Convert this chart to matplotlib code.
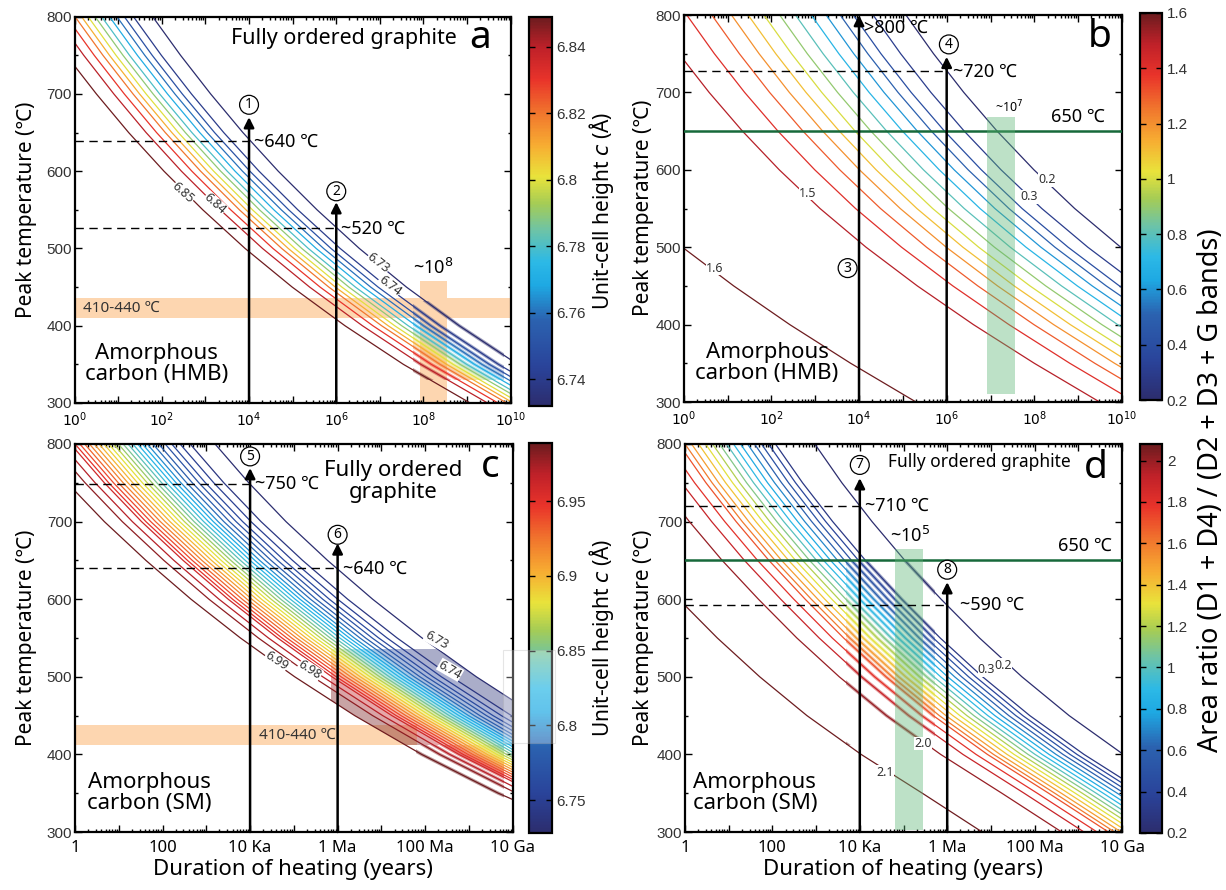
import numpy as np
import matplotlib.pyplot as plt
from matplotlib.colors import LinearSegmentedColormap, Normalize
from matplotlib.cm import ScalarMappable
from matplotlib.patches import Rectangle
from matplotlib.ticker import LogLocator, MultipleLocator, NullFormatter

plt.rcParams['font.family'] = ['Noto Sans', 'DejaVu Sans']

W, H = 1226, 890

# temperature grid (°C) on which every contour is read
temps = [300, 350, 400, 450, 500, 550, 600, 650, 700, 750, 800]

# a: unit-cell height c, HMB model
levels_a = [6.73, 6.74, 6.75, 6.76, 6.77, 6.78, 6.79, 6.80, 6.81, 6.82, 6.83, 6.84, 6.85]
ref_a = [11.69, 10.16, 8.82, 7.61, 6.53, 5.56, 4.67, 3.86, 3.12, 2.43, 1.79]   # log10(yr) of first contour
offset_a = [0, 0.44, 0.65, 0.82, 0.99, 1.17, 1.32, 1.48, 1.63, 1.78, 1.98, 2.22, 2.62]

# b: area ratio, HMB model
levels_b = [0.2, 0.3, 0.4, 0.5, 0.6, 0.7, 0.8, 0.9, 1.0, 1.1, 1.2, 1.3, 1.4, 1.5, 1.6]
ref_b = [15.3, 13.81, 12.42, 11.14, 9.97, 8.92, 7.99, 7.15, 6.39, 5.70, 5.07]
offset_b = [0, 0.75, 1.2, 1.5, 1.82, 2.16, 2.52, 2.88, 3.24, 3.6, 3.98, 4.43, 5.0, 5.81, 10.0]

# c: unit-cell height c, SM model
levels_c = [6.73, 6.74, 6.75, 6.76, 6.77, 6.78, 6.79, 6.80, 6.81, 6.82, 6.83, 6.84, 6.85, 6.86,
            6.87, 6.88, 6.89, 6.90, 6.91, 6.92, 6.93, 6.94, 6.95, 6.96, 6.97, 6.98, 6.99]
ref_c = [15.85, 13.82, 12.07, 10.54, 9.17, 7.93, 6.80, 5.77, 4.82, 3.97, 3.2]
offset_c = [0, 0.57, 0.80, 0.99, 1.14, 1.29, 1.42, 1.55, 1.66, 1.77, 1.88, 1.99, 2.10, 2.21,
            2.32, 2.43, 2.54, 2.65, 2.76, 2.87, 2.98, 3.09, 3.20, 3.30, 3.51, 3.74, 4.15]

# d: area ratio, SM model
levels_d = [0.2, 0.3, 0.4, 0.5, 0.6, 0.7, 0.8, 0.9, 1.0, 1.1, 1.2, 1.3, 1.4, 1.5, 1.6, 1.7,
            1.8, 1.9, 2.0, 2.1]
ref_d = [12.8, 11.43, 10.03, 8.79, 7.71, 6.74, 5.86, 5.03, 4.28, 3.59, 2.97]
offset_d = [0, 0.9, 1.06, 1.22, 1.38, 1.54, 1.70, 1.86, 2.02, 2.18, 2.34, 2.50, 2.66, 2.82,
            2.97, 3.11, 3.37, 3.67, 4.18, 6.0]

decade_labels = ['1', '', '100', '', '10 Ka', '', '1 Ma', '', '100 Ma', '', '10 Ga']

cmap = LinearSegmentedColormap.from_list('jetlike', [
    (0.00, '#2c2d6e'), (0.10, '#2a439a'), (0.22, '#2b62b0'), (0.31, '#1ea9e3'),
    (0.37, '#2cb9e6'), (0.45, '#6cc3a8'), (0.52, '#a5cc55'), (0.59, '#e9e33b'),
    (0.67, '#f7ad32'), (0.75, '#f1782d'), (0.84, '#e9332a'), (0.92, '#c02129'),
    (1.00, '#6d1c1f')])

fig = plt.figure(figsize=(W / 100, H / 100), dpi=100)


def make_axes(l, t, r, b):
    return fig.add_axes([l / W, 1 - b / H, (r - l) / W, (b - t) / H])


def contour_x(ref, off):
    return 10 ** (np.array(ref) - off)


def setup(ax, power_labels):
    ax.set_xscale('log')
    ax.set_xlim(1, 1e10)
    ax.set_ylim(300, 800)
    ax.set_xticks([10.0 ** k for k in range(11)])
    if power_labels:
        ax.set_xticklabels(['$10^{%d}$' % k if k % 2 == 0 else '' for k in range(11)],
                           fontsize=10)
    else:
        ax.set_xticklabels(decade_labels, fontsize=12)
    ax.xaxis.set_minor_locator(LogLocator(base=10, subs=np.arange(2, 10), numticks=30))
    ax.xaxis.set_minor_formatter(NullFormatter())
    ax.yaxis.set_major_locator(MultipleLocator(100))
    ax.yaxis.set_minor_locator(MultipleLocator(50))
    for lab in ax.get_yticklabels():
        lab.set_family('Liberation Sans')
    ax.tick_params(axis='y', labelsize=11, labelcolor='#333333', pad=2)
    ax.tick_params(axis='x', pad=6)
    ax.tick_params(which='both', direction='in', top=True, right=True, width=1)
    ax.tick_params(which='major', length=5)
    ax.tick_params(which='minor', length=2.5)
    for s in ax.spines.values():
        s.set_linewidth(1.6)


def draw_lines(ax, levels, ref, offset, norm, lw=0.9):
    for lev, off in zip(levels, offset):
        ax.plot(contour_x(ref, off), temps, color=cmap(norm(lev)), lw=lw, zorder=2)


def smudge(ax, levels, ref, offset, norm, x0, x1, t0, t1):
    # the blurred, heavier-looking patch in the original figure
    box = Rectangle((x0, t0), x1 - x0, t1 - t0, transform=ax.transData)
    for lev, off in zip(levels, offset):
        ln, = ax.plot(contour_x(ref, off), temps, color=cmap(norm(lev)), lw=2.4, alpha=0.45,
                      zorder=2.2)
        ln.set_clip_path(box)


def colorbar(cax, norm, ticks, labels):
    cb = fig.colorbar(ScalarMappable(norm=norm, cmap=cmap), cax=cax, ticks=ticks)
    cb.ax.set_yticklabels(labels, fontsize=11, color='#333333', family='Liberation Sans')
    cb.ax.tick_params(direction='in', length=4, width=1, left=True, right=True)
    cb.outline.set_linewidth(1.6)


def arrow(ax, x, y0, y1):
    ax.annotate('', xy=(x, y1), xytext=(x, y0),
                arrowprops=dict(arrowstyle='-|>', color='k', lw=1.8, mutation_scale=15,
                                shrinkA=0, shrinkB=0), zorder=6)


def circled(ax, x, y, s):
    ax.text(x, y, s, ha='center', va='center', fontsize=10, zorder=7,
            bbox=dict(boxstyle='circle,pad=0.14', fc='white', ec='k', lw=0.9))


def clabel(ax, L, T, s, rot):
    ax.text(10 ** L, T, s, rotation=rot, ha='center', va='center', fontsize=9,
            color='#333333', zorder=5, rotation_mode='anchor',
            bbox=dict(fc='white', ec='none', pad=0.2))


def dashed(ax, x1, T):
    ax.plot([1, x1], [T, T], color='k', lw=1, ls=(0, (6, 4)), zorder=4)


peach = '#fdd6b0'

# ---------------- panel a ----------------
ax = make_axes(74.6, 16.7, 510.7, 403)
setup(ax, True)
norm_a = Normalize(6.732, 6.849)
ax.axhspan(410, 436, color=peach, lw=0, zorder=1)
ax.fill_between([10 ** 7.91, 10 ** 8.55], 300, 458, color=peach, lw=0, zorder=1)
draw_lines(ax, levels_a, ref_a, offset_a, norm_a)
smudge(ax, levels_a, ref_a, offset_a, norm_a, 10 ** 7.75, 10 ** 9.85, 330, 432)
dashed(ax, 1e4, 639)
dashed(ax, 1e6, 527)
arrow(ax, 1e4, 300, 670)
arrow(ax, 1e6, 300, 560)
circled(ax, 1e4, 686, '1')
circled(ax, 1e6, 574, '2')
ax.text(10 ** 4.12, 638, '~640 ℃', fontsize=13, va='center')
ax.text(10 ** 6.12, 526, '~520 ℃', fontsize=13, va='center')
ax.text(10 ** 0.2, 423, '410-440 ℃', fontsize=11, va='center', color='#333333')
ax.text(10 ** 8.23, 462, '~10$^8$', fontsize=13, ha='center', va='bottom')
ax.text(10 ** 6.18, 772, 'Fully ordered graphite', fontsize=15.5, ha='center', va='center')
ax.text(10 ** 9.3, 772, 'a', fontsize=28, ha='center', va='center')
ax.text(10 ** 1.88, 350, 'Amorphous\ncarbon (HMB)', fontsize=16, ha='center', va='center',
        linespacing=1.0)
clabel(ax, 2.49, 572, '6.85', -42)
clabel(ax, 3.22, 558, '6.84', -42)
clabel(ax, 6.96, 481, '6.73', -38)
clabel(ax, 7.23, 452, '6.74', -38)

cax = make_axes(529, 17, 551.7, 406)
colorbar(cax, norm_a, [6.74, 6.76, 6.78, 6.80, 6.82, 6.84],
         ['6.74', '6.76', '6.78', '6.8', '6.82', '6.84'])

# ---------------- panel b ----------------
ax = make_axes(683.7, 15, 1122, 402)
setup(ax, True)
norm_b = Normalize(0.2, 1.6)
draw_lines(ax, levels_b, ref_b, offset_b, norm_b)
ax.axhline(650, color='#17693a', lw=1.8, zorder=3)
ax.fill_between([10 ** 6.91, 10 ** 7.55], 310, 668, color='#5cb574', alpha=0.4, lw=0, zorder=4)
dashed(ax, 1e6, 728)
arrow(ax, 1e4, 300, 800)
arrow(ax, 1e6, 300, 746)
circled(ax, 10 ** 3.74, 473, '3')
circled(ax, 10 ** 6.05, 762, '4')
ax.text(10 ** 4.12, 784, '>800 ℃', fontsize=13, va='center')
ax.text(10 ** 6.14, 727, '~720 ℃', fontsize=13, va='center')
ax.text(10 ** 9.62, 657, '650 ℃', fontsize=13, ha='right', va='bottom')
ax.text(10 ** 7.42, 670, '~10$^7$', fontsize=9, ha='center', va='bottom')
ax.text(10 ** 9.5, 772, 'b', fontsize=28, ha='center', va='center')
ax.text(10 ** 1.9, 350, 'Amorphous\ncarbon (HMB)', fontsize=16, ha='center', va='center',
        linespacing=1.0)
clabel(ax, 2.83, 570, '1.5', 0)
clabel(ax, 0.71, 473, '1.6', 0)
clabel(ax, 8.29, 587, '0.2', 0)
clabel(ax, 7.87, 565, '0.3', 0)

cax = make_axes(1140, 13, 1162, 400)
colorbar(cax, norm_b, [0.2, 0.4, 0.6, 0.8, 1.0, 1.2, 1.4, 1.6],
         ['0.2', '0.4', '0.6', '0.8', '1', '1.2', '1.4', '1.6'])

# ---------------- panel c ----------------
ax = make_axes(75, 444, 512.7, 832)
setup(ax, False)
norm_c = Normalize(6.728, 6.989)
ax.fill_between([1, 10 ** 7.81], 412, 438, color=peach, lw=0, zorder=1)
draw_lines(ax, levels_c, ref_c, offset_c, norm_c)
box = Rectangle((10 ** 5.85, 412), 1e10, 124, transform=ax.transData)
for i in range(len(levels_c) - 1):
    xs = np.r_[contour_x(ref_c, offset_c[i]), contour_x(ref_c, offset_c[i + 1])[::-1]]
    ys = np.r_[temps, temps[::-1]]
    p, = ax.fill(xs, ys, color=cmap(norm_c((levels_c[i] + levels_c[i + 1]) / 2)), lw=0,
                 alpha=0.4, zorder=2.5)
    p.set_clip_path(box)
smudge(ax, levels_c, ref_c, offset_c, norm_c, 10 ** 7.8, 10 ** 9.8, 340, 412)
dashed(ax, 1e4, 748)
dashed(ax, 1e6, 640)
arrow(ax, 1e4, 300, 769)
arrow(ax, 1e6, 300, 672)
circled(ax, 1e4, 784, '5')
circled(ax, 1e6, 683, '6')
ax.text(10 ** 4.12, 749, '~750 ℃', fontsize=13, va='center')
ax.text(10 ** 6.12, 639, '~640 ℃', fontsize=13, va='center')
ax.text(10 ** 4.2, 425, '410-440 ℃', fontsize=11, va='center', color='#333333')
ax.text(10 ** 7.27, 752, 'Fully ordered\ngraphite', fontsize=16, ha='center', va='center',
        linespacing=1.05)
ax.text(10 ** 9.48, 771, 'c', fontsize=28, ha='center', va='center')
ax.text(10 ** 1.7, 350, 'Amorphous\ncarbon (SM)', fontsize=16, ha='center', va='center',
        linespacing=1.0)
clabel(ax, 4.61, 521, '6.99', -33)
clabel(ax, 5.37, 509, '6.98', -33)
clabel(ax, 8.26, 547, '6.73', -30)
clabel(ax, 8.57, 509, '6.74', -30)

cax = make_axes(529, 443, 551.7, 833)
colorbar(cax, norm_c, [6.75, 6.80, 6.85, 6.90, 6.95], ['6.75', '6.8', '6.85', '6.9', '6.95'])
fig.patches.append(Rectangle((503 / W, 1 - 743 / H), 52 / W, 93 / H, transform=fig.transFigure,
                             fc='white', alpha=0.3, ec='#aaaaaa', lw=0.8, zorder=10))

# ---------------- panel d ----------------
ax = make_axes(685, 444, 1122, 832)
setup(ax, False)
norm_d = Normalize(0.2, 2.08)
draw_lines(ax, levels_d, ref_d, offset_d, norm_d)
smudge(ax, levels_d, ref_d, offset_d, norm_d, 10 ** 3.68, 10 ** 5.73, 412, 650)
ax.axhline(651, color='#17693a', lw=1.8, zorder=3)
ax.fill_between([10 ** 4.8, 10 ** 5.45], 302, 665, color='#5cb574', alpha=0.4, lw=0, zorder=4)
dashed(ax, 1e4, 720)
dashed(ax, 1e6, 593)
arrow(ax, 1e4, 300, 756)
arrow(ax, 1e6, 300, 622)
circled(ax, 1e4, 773, '7')
circled(ax, 1e6, 638, '8')
ax.text(10 ** 4.12, 720, '~710 ℃', fontsize=13, va='center')
ax.text(10 ** 6.3, 593, '~590 ℃', fontsize=13, va='center')
ax.text(10 ** 9.77, 657, '650 ℃', fontsize=13, ha='right', va='bottom')
ax.text(10 ** 5.15, 668, '~10$^5$', fontsize=13, ha='center', va='bottom')
ax.text(10 ** 6.73, 777, 'Fully ordered graphite', fontsize=12.5, ha='center', va='center')
ax.text(10 ** 9.4, 769, 'd', fontsize=28, ha='center', va='center')
ax.text(10 ** 1.6, 350, 'Amorphous\ncarbon (SM)', fontsize=16, ha='center', va='center',
        linespacing=1.0)
clabel(ax, 6.9, 509, '0.3', 0)
clabel(ax, 7.28, 515, '0.2', 0)
clabel(ax, 5.45, 414, '2.0', 0)
clabel(ax, 4.58, 377, '2.1', 0)

cax = make_axes(1140, 444, 1162, 833)
colorbar(cax, norm_d, [0.2, 0.4, 0.6, 0.8, 1.0, 1.2, 1.4, 1.6, 1.8, 2.0],
         ['0.2', '0.4', '0.6', '0.8', '1', '1.2', '1.4', '1.6', '1.8', '2'])

# ---------------- shared labels ----------------
for x, y in [(27, 210), (27, 638), (643, 208), (643, 638)]:
    fig.text(x / W, 1 - y / H, 'Peak temperature (℃)', rotation=90, fontsize=15,
             ha='center', va='center')
for y in [211, 638]:
    fig.text(601 / W, 1 - y / H, 'Unit-cell height $c$ (Å)', rotation=90, fontsize=15,
             ha='center', va='center')
fig.text(1211 / W, 1 - 490 / H, 'Area ratio (D1 + D4) / (D2 + D3 + G bands)', rotation=90,
         fontsize=19.5, ha='center', va='center')
for x in [293, 903]:
    fig.text(x / W, 1 - 870 / H, 'Duration of heating (years)', fontsize=16,
             ha='center', va='center')

fig.savefig('out.png', dpi=100)
